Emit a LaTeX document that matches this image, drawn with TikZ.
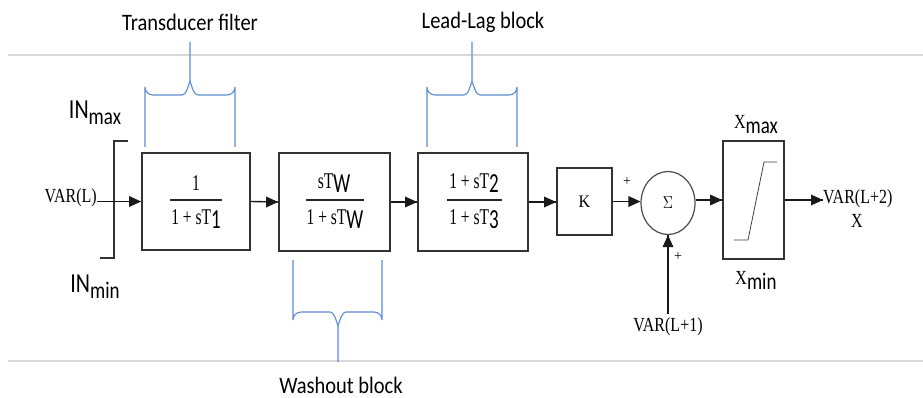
\documentclass[tikz,border=0pt]{standalone}
\usepackage{fontspec}
\setmainfont{Liberation Serif}
\newfontfamily\calfont{Carlito}
\usetikzlibrary{arrows.meta,shapes.geometric}
\newcommand\sbs[1]{\raisebox{-3pt}{\calfont\fontsize{19}{19}\selectfont #1}}
\newcommand\vst[1]{\scalebox{1}[1.15]{#1}}
\newcommand\vsf[1]{\scalebox{1}[1.45]{#1}}
\newcommand\vsl[1]{\scalebox{1}[1.25]{#1}}
\newcommand\upbrace[6]{% left, right, bottom y, mid y, tip x, tip y
  \draw[brace] (#1,#3) -- (#1,#4-8) to[out=-90,in=180] (#1+8,#4) -- (#5-8,#4) to[out=0,in=90] (#5,#4-12) -- (#5,#6);
  \draw[brace] (#2,#3) -- (#2,#4-8) to[out=-90,in=0] (#2-8,#4) -- (#5+8,#4) to[out=180,in=90] (#5,#4-12);}
\newcommand\downbrace[6]{% left, right, top y, mid y, tip x, tip y
  \draw[brace] (#1,#3) -- (#1,#4+8) to[out=90,in=180] (#1+8,#4) -- (#5-8,#4) to[out=0,in=-90] (#5,#4+12) -- (#5,#6);
  \draw[brace] (#2,#3) -- (#2,#4+8) to[out=90,in=0] (#2-8,#4) -- (#5+8,#4) to[out=180,in=-90] (#5,#4+12);}
% arrow heads: pointing right / up, tip at the given point
\newcommand\headR[1]{\fill[black!90] #1 -- ++(-12,-5.5) -- ++(0,11) -- cycle;}
\newcommand\headU[1]{\fill[black!90] #1 -- ++(-5.5,12) -- ++(11,0) -- cycle;}
\definecolor{bracecol}{RGB}{95,140,210}
\begin{document}
\begin{tikzpicture}[x=1pt,y=-1pt,
  blk/.style={draw=black!80, line width=1.8pt, inner sep=0pt},
  arr/.style={line width=1.4pt, draw=black!90},
  brace/.style={draw=bracecol, line width=1.1pt},
  sep/.style={draw=black!15, line width=1.2pt},
  lbl/.style={font=\calfont\fontsize{20.5}{22}\selectfont, inner sep=0pt},
  serif/.style={font=\fontsize{15.5}{17}\selectfont, inner sep=0pt},
  small/.style={font=\fontsize{16}{17}\selectfont, inner sep=0pt},
  bar/.style={line width=1.1pt, draw=black!85}]
\useasboundingbox (0,0) rectangle (923,398);
\fill[white] (0,0) rectangle (923,398);
% separator lines
\draw[sep] (8,55) -- (923,55);
\draw[sep] (8,361) -- (923,361);
% labels
\node[lbl] (tf) at (190,22) {\vst{Transducer filter}};
\node[lbl] (ll) at (483,22) {\vst{Lead-Lag block}};
\node[lbl] (wo) at (341,385) {\vst{Washout block}};
% braces
\upbrace{145}{235}{147}{95}{190}{42}
\upbrace{427}{517}{147}{95}{472}{42}
\downbrace{293}{382}{260}{312}{338}{362}
% blocks
\node[blk, minimum width=108pt, minimum height=97pt] (b1) at (196,201.5) {};
\node[blk, minimum width=111pt, minimum height=98pt] (b2) at (334.5,202) {};
\node[blk, minimum width=110pt, minimum height=98pt] (b3) at (473,202) {};
\node[blk, minimum width=55pt, minimum height=67pt, font=\fontsize{16}{17}\selectfont] (k) at (584.5,201.5) {\scalebox{1}[1.1]{K}};
\node[draw=black!70, line width=1.2pt, ellipse, minimum width=54pt, minimum height=63pt, inner sep=0pt, font=\fontsize{14}{15}\selectfont] (sum) at (668,203) {\scalebox{1}[1.2]{$\Sigma$}};
\node[blk, minimum width=61pt, minimum height=118pt] (lim) at (753.5,200) {};
% fractions
\node[serif] (n1) at (196,183) {\vsf{1}};
\node[serif] (d1) at (196,219) {\vsf{1 + sT\sbs{1}}};
\draw[bar] (170,200) -- (222,200);
\node[serif] (n2) at (334,183) {\vsf{sT\sbs{W}}};
\node[serif] (d2) at (335,219) {\vsf{1 + sT\sbs{W}}};
\draw[bar] (306,200) -- (364,200);
\node[serif] (n3) at (474,183) {\vsf{1 + sT\sbs{2}}};
\node[serif] (d3) at (474,219) {\vsf{1 + sT\sbs{3}}};
\draw[bar] (447,200) -- (502,200);
% limiter curve
\draw[line width=0.8pt, black!75] (734,240) -- (748,240) -- (764,162) -- (777,162);
% input bracket
\draw[line width=1.6pt, black!80] (128,141) -- (114,141) -- (114,258) -- (100,258);
\node[inner sep=0pt, font=\calfont] (inmax) at (95,113) {\vsl{\fontsize{22}{22}\selectfont IN\raisebox{-5pt}{\fontsize{19}{19}\selectfont max}}};
\node[inner sep=0pt, font=\calfont] (inmin) at (95,287) {\vsl{\fontsize{22}{22}\selectfont IN\raisebox{-5pt}{\fontsize{19}{19}\selectfont min}}};
% limit labels
\node[inner sep=0pt] (xmax) at (756,125) {\vsl{\fontsize{16}{16}\selectfont X\raisebox{-4pt}{\calfont\fontsize{19}{19}\selectfont max}}};
\node[inner sep=0pt] (xmin) at (756,280) {\vsl{\fontsize{16}{16}\selectfont X\raisebox{-4pt}{\calfont\fontsize{19}{19}\selectfont min}}};
% signals
\node[small, anchor=east] (in) at (97,198) {\vsl{VAR(L)}};
\node[small, anchor=west] (out) at (823,199) {\vsl{VAR(L+2)}};
\node[small] (x) at (857,221) {\vsl{X}};
\node[small] (v1) at (668,327) {\vsl{VAR(L+1)}};
\node[font=\fontsize{14}{14}\selectfont, inner sep=0pt] (p1) at (627,182) {+};
\node[font=\fontsize{14}{14}\selectfont, inner sep=0pt] (p2) at (678,257) {+};
% connectors
\draw[arr] (in.east |- b1.west) -- (b1.west);            \headR{(b1.west)}
\draw[arr] (b1.east) -- (b2.west);                       \headR{(b2.west)}
\draw[arr] (b2.east) -- (b3.west);                       \headR{(b3.west)}
\draw[arr] (b3.east) -- (b3.east -| k.west);             \headR{(b3.east -| k.west)}
\draw[arr] (k.east) -- (k.east -| sum.west);             \headR{(k.east -| sum.west)}
\draw[arr] (sum.east |- lim.west) -- (lim.west);         \headR{(lim.west)}
\draw[arr] (lim.east) -- (lim.east -| out.west);         \headR{(lim.east -| out.west)}
\draw[arr] ([yshift=4pt]v1.north) -- (sum.south);        \headU{(sum.south)}
\end{tikzpicture}
\end{document}
